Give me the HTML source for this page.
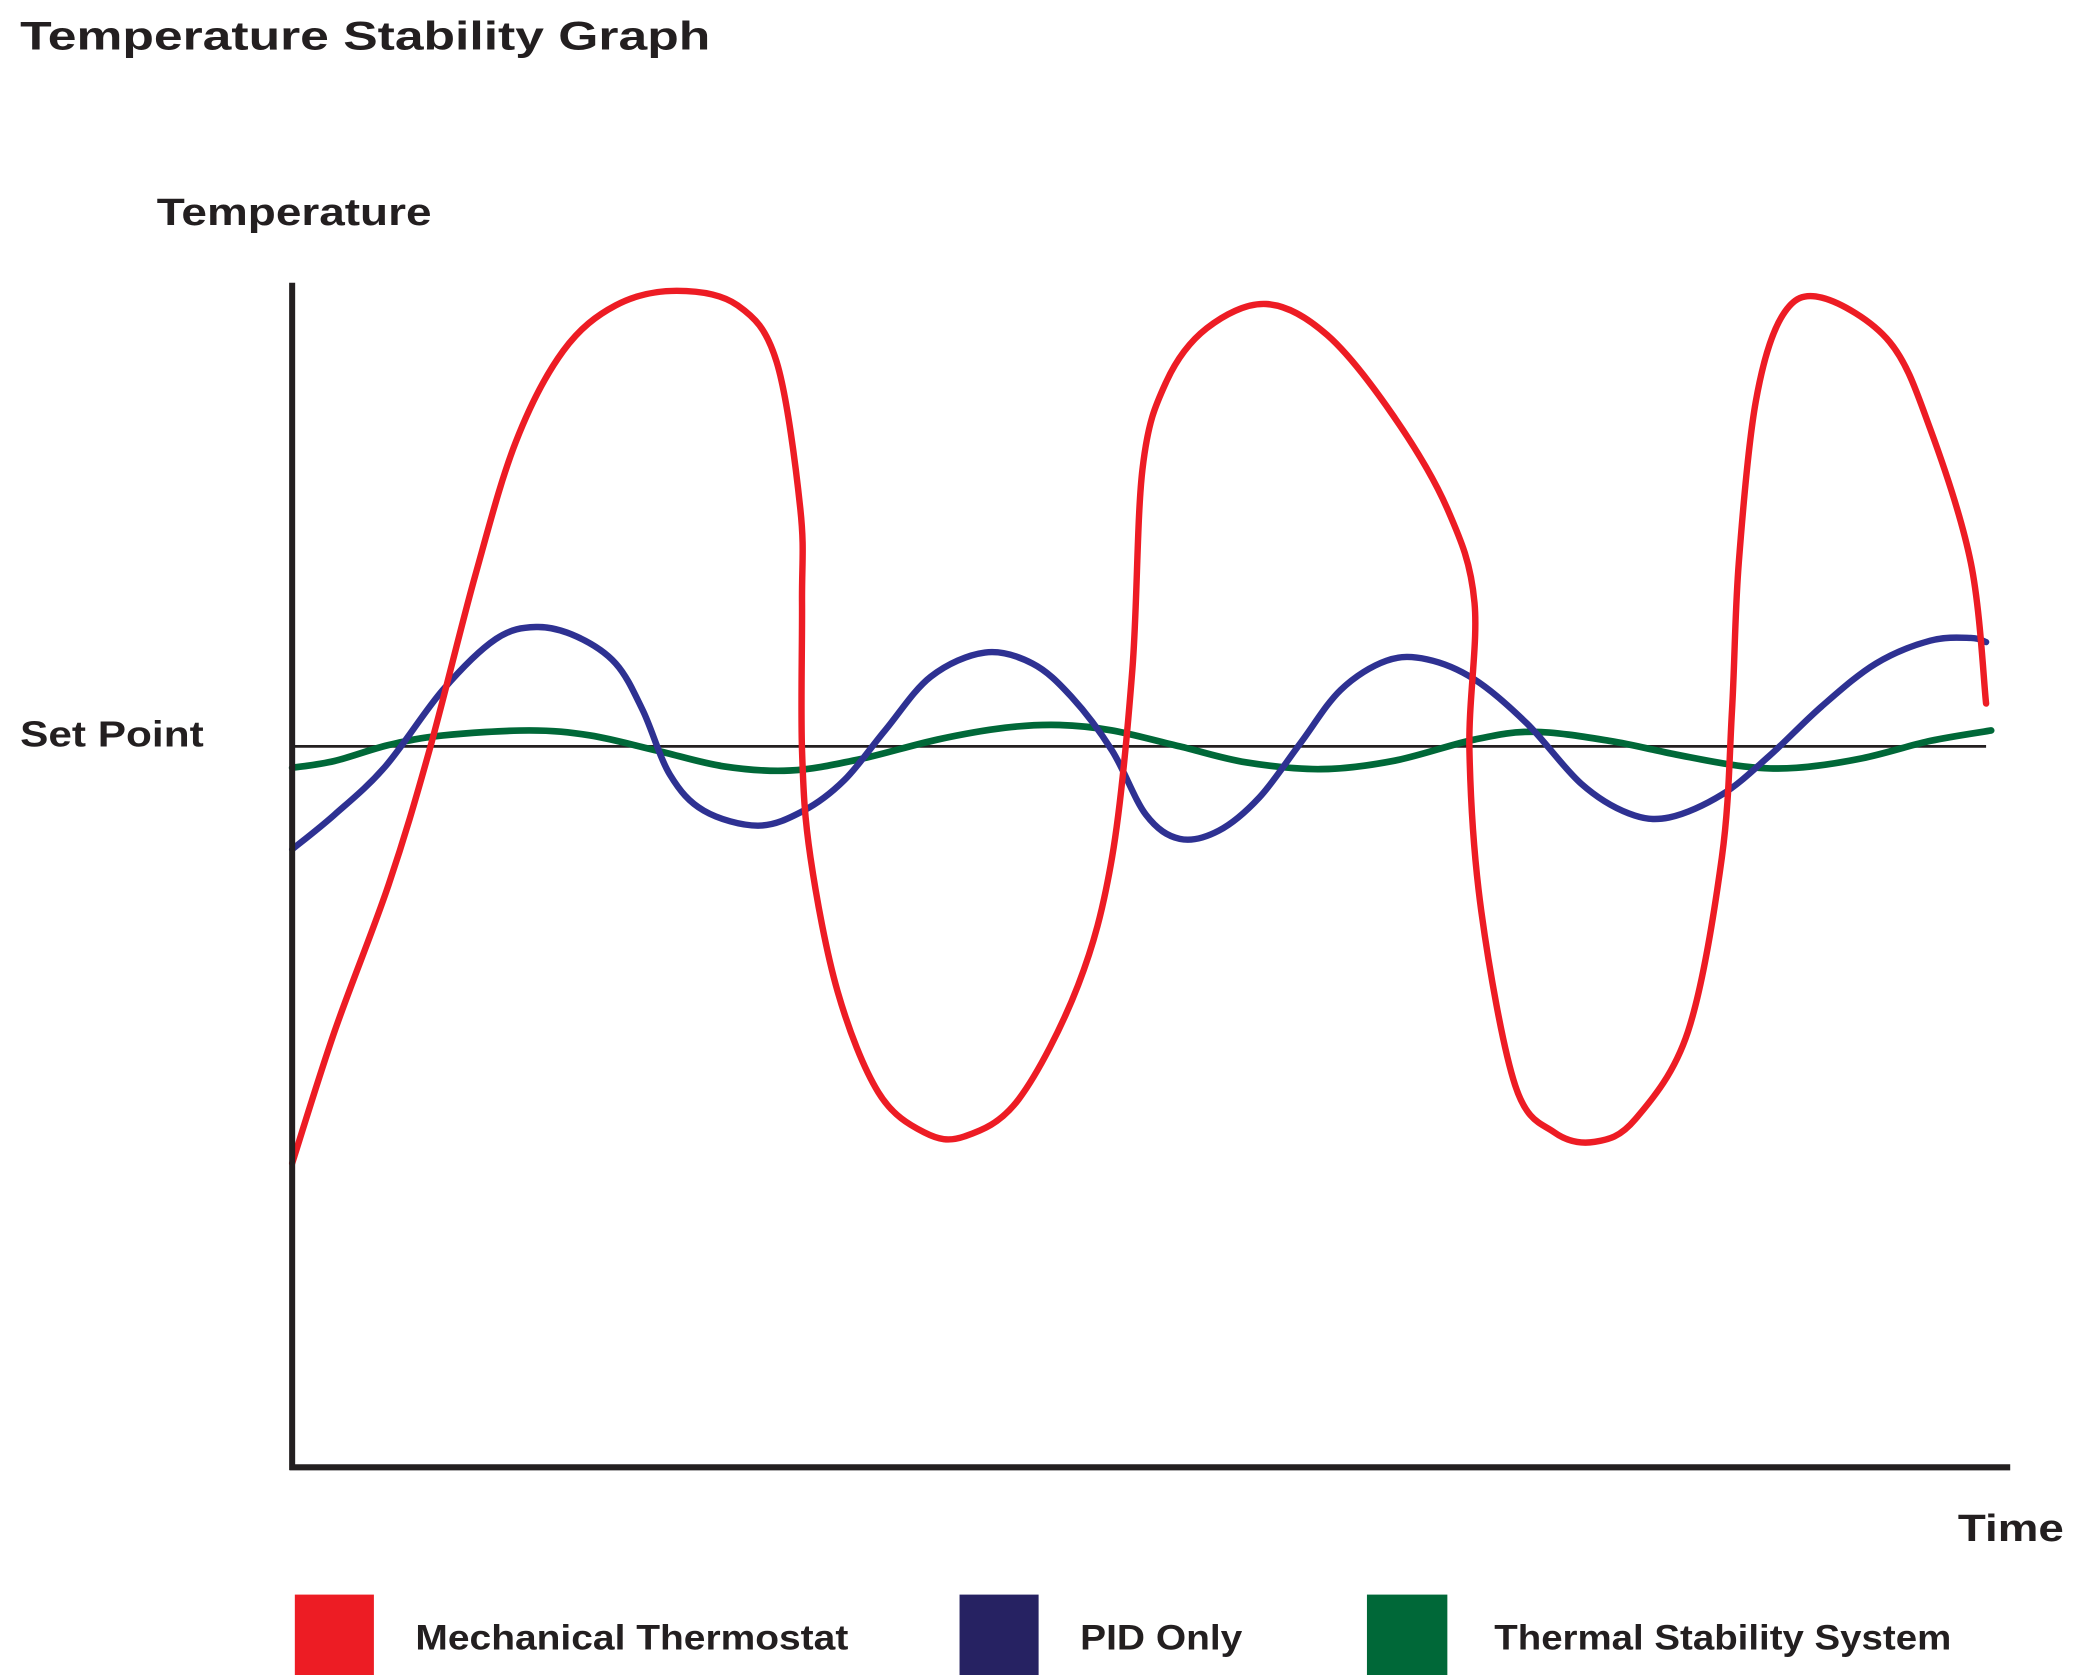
<!DOCTYPE html>
<html><head><meta charset="utf-8"><title>Temperature Stability Graph</title>
<style>
html,body{margin:0;padding:0;background:#fff;}
svg{display:block;}
text{font-family:"Liberation Sans",sans-serif;font-weight:bold;fill:#231f20;}
</style></head>
<body>
<svg id="chart" width="2100" height="1675" viewBox="0 0 1567 1250" preserveAspectRatio="none" xmlns="http://www.w3.org/2000/svg">
<rect x="0" y="0" width="1567" height="1250" fill="#fff"/>
<text x="15" y="37" font-size="30" textLength="515" lengthAdjust="spacingAndGlyphs">Temperature Stability Graph</text>
<text x="117" y="168" font-size="28" textLength="205" lengthAdjust="spacingAndGlyphs">Temperature</text>
<text x="15" y="557" font-size="27" textLength="137" lengthAdjust="spacingAndGlyphs">Set Point</text>
<text x="1461" y="1150" font-size="28" textLength="79" lengthAdjust="spacingAndGlyphs">Time</text>
<line x1="218" y1="557" x2="1482" y2="557" stroke="#231f20" stroke-width="2"/>
<g id="series"></g>
<line x1="218" y1="211" x2="218" y2="1097" stroke="#231f20" stroke-width="4.5"/>
<line x1="216" y1="1095" x2="1500" y2="1095" stroke="#231f20" stroke-width="4.5"/>
<g>
<rect x="220" y="1190" width="59" height="60" fill="#ed1c24"/>
<text x="310" y="1231" font-size="26" textLength="323" lengthAdjust="spacingAndGlyphs">Mechanical Thermostat</text>
<rect x="716" y="1190" width="59" height="60" fill="#262262"/>
<text x="806" y="1231" font-size="26" textLength="121" lengthAdjust="spacingAndGlyphs">PID Only</text>
<rect x="1020" y="1190" width="60" height="60" fill="#006838"/>
<text x="1115" y="1231" font-size="26" textLength="341" lengthAdjust="spacingAndGlyphs">Thermal Stability System</text>
</g>
</svg>
<script>
// Time (0..100) and temperature deviation from set point (value units)
var redTime = [0,2.5,5.7,8.1,10.8,13.2,16.0,19.1,22.7,26.3,28.6,30.0,30.1,30.1,30.6,32.2,34.6,37.3,39.7,42.9,46.4,48.4,49.6,50.2,51.6,54.0,57.5,61.1,65.0,68.2,69.8,69.5,70.2,72.2,74.5,76.9,79.3,82.4,84.4,85.0,85.4,86.4,88.0,90.3,94.3,96.7,99.1,100];
var redTemp = [-91.5,-62.6,-30.3,-0.9,37.4,66.8,86.8,96.8,100,96.8,84.4,52.1,31.5,-0.9,-24.4,-53.8,-75.9,-84.7,-85.6,-77.4,-52.4,-24.4,16.8,60.9,80,91.8,97.1,90.3,72.6,52.1,31.5,-0.9,-36.2,-74.4,-84.7,-86.8,-81.8,-62.6,-24.4,7.9,40.3,75.6,94.7,98.5,88.8,69.7,40.3,9.4];
var blueTime = [0,2.5,5.5,8.9,12.0,14.4,16.8,19.1,20.7,22.3,24.3,27.5,30.2,32.6,35.0,37.7,40.9,43.7,46.0,48.4,50.4,52.4,54.7,57.1,59.5,61.9,64.6,67.0,69.8,72.9,76.1,78.9,81.3,84.4,87.2,90.3,93.5,96.7,99.1,100];
var blueTemp = [-22.6,-15,-4.4,12.4,23.5,26.2,24.1,18.2,7.9,-6.2,-14.1,-17.4,-14.1,-7.4,3.5,15.3,20.6,18.2,10.9,-0.9,-15,-20.3,-18.5,-11.2,0.6,12.4,18.8,19.1,14.7,5,-8.2,-14.7,-15.6,-10.6,-2.1,8.8,18.2,23.2,23.8,22.9];
var greenTime = [0,2.5,5.7,8.9,14.0,17.6,21.5,25.5,29.4,33.4,38.1,42.1,45.3,48.4,52.4,56.3,60.7,65.0,69.8,73.3,77.8,81.7,85.7,88.8,92.7,96.7,100.3];
var greenTemp = [-4.7,-3.2,0.3,2.4,3.5,2.4,-0.9,-4.4,-5.3,-2.9,1.5,4.1,4.7,3.5,0,-3.5,-5,-3.2,1.5,3.2,1.2,-1.8,-4.4,-4.7,-2.6,1.2,3.5];

function sx(t){ return 218 + t * 12.64; }
function sy(v){ return 557 - v * 3.4; }

function pathFrom(times, vals){
  var p = [];
  for (var i = 0; i < times.length; i++) p.push([sx(times[i]), sy(vals[i])]);
  var d = 'M' + p[0][0].toFixed(2) + ' ' + p[0][1].toFixed(2);
  for (var j = 0; j < p.length - 1; j++){
    var p0 = p[j > 0 ? j - 1 : j], p1 = p[j], p2 = p[j + 1], p3 = p[j + 2 < p.length ? j + 2 : j + 1];
    var c1x = p1[0] + (p2[0] - p0[0]) / 6, c1y = p1[1] + (p2[1] - p0[1]) / 6;
    var c2x = p2[0] - (p3[0] - p1[0]) / 6, c2y = p2[1] - (p3[1] - p1[1]) / 6;
    d += ' C' + c1x.toFixed(2) + ' ' + c1y.toFixed(2) + ' ' + c2x.toFixed(2) + ' ' + c2y.toFixed(2) + ' ' + p2[0].toFixed(2) + ' ' + p2[1].toFixed(2);
  }
  return d;
}

var g = document.getElementById('series');
var NS = 'http://www.w3.org/2000/svg';

var green = document.createElementNS(NS, 'path');
green.setAttribute('d', pathFrom(greenTime, greenTemp));
green.setAttribute('fill', 'none');
green.setAttribute('stroke', '#006838');
green.setAttribute('stroke-width', '5');
green.setAttribute('stroke-linecap', 'round');


g.appendChild(green);

var blue = document.createElementNS(NS, 'path');
blue.setAttribute('d', pathFrom(blueTime, blueTemp));
blue.setAttribute('fill', 'none');
blue.setAttribute('stroke', '#2e3192');
blue.setAttribute('stroke-width', '4.8');
blue.setAttribute('stroke-linecap', 'round');


g.appendChild(blue);

var red = document.createElementNS(NS, 'path');
red.setAttribute('d', pathFrom(redTime, redTemp));
red.setAttribute('fill', 'none');
red.setAttribute('stroke', '#ed1c24');
red.setAttribute('stroke-width', '4.8');
red.setAttribute('stroke-linecap', 'round');


g.appendChild(red);
</script>
</body></html>
